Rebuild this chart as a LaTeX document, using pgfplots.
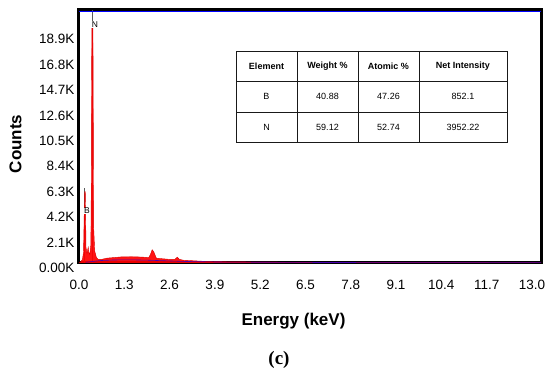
\documentclass[border=0pt]{standalone}
\usepackage{fontspec}
\setmainfont{Liberation Sans}
\newfontfamily\seriffont{Liberation Serif}
\usepackage{pgfplots}
\pgfplotsset{compat=1.18}
\begin{document}
\begin{tikzpicture}[x=1pt,y=1pt]
\useasboundingbox (0,0) rectangle (550,375);
\begin{axis}[
  at={(79pt,112pt)}, anchor=south west,
  scale only axis, width=462pt, height=253pt,
  xmin=0, xmax=13.26, ymin=0, ymax=20900,
  scaled y ticks=false, scaled x ticks=false,
  axis line style={line width=3pt},
  major tick length=0pt,
  xtick={0,1.3,2.6,3.9,5.2,6.5,7.8,9.1,10.4,11.7,13.0},
  xticklabels={0.0,1.3,2.6,3.9,5.2,6.5,7.8,9.1,10.4,11.7,13.0},
  ytick={0,2100,4200,6300,8400,10500,12600,14700,16800,18900},
  yticklabels={0.00K,2.1K,4.2K,6.3K,8.4K,10.5K,12.6K,14.7K,16.8K,18.9K},
  ticklabel style={font=\fontsize{13.5}{16}\selectfont},
  xticklabel style={yshift=-14pt},
  yticklabel style={yshift=-5pt, xshift=-1pt},
]
\addplot[black!65, line width=0.5pt] coordinates {(0.385,0) (0.385,20900)};
\addplot[black!65, line width=0.5pt] coordinates {(0.155,0) (0.155,6200)};
\addplot[fill=red, draw=red!85!black, line width=0.4pt, fill opacity=0.92] coordinates {
(0.00,0) (0.05,100) (0.10,300) (0.13,900) (0.15,4000) (0.165,5900) (0.18,5900) (0.19,4200)
(0.20,1300) (0.23,800) (0.25,1100) (0.265,1300) (0.28,900) (0.31,700)
(0.34,1500) (0.35,5000) (0.36,15000) (0.37,19600) (0.40,19600) (0.41,12000)
(0.42,3000) (0.45,1000) (0.50,450) (0.55,300) (0.65,300) (0.8,400)
(1.0,450) (1.2,500) (1.5,520) (1.8,490) (2.0,450) (2.05,700) (2.10,1100)
(2.15,900) (2.22,400) (2.4,350) (2.6,300) (2.75,300) (2.82,480) (2.88,300)
(3.0,230) (3.5,150) (4.0,110) (5.0,80) (6.0,60) (8,40) (10,30) (13.26,20)
} \closedcycle;
\addplot[blue!70!red, line width=0.6pt] coordinates {
(0.2,60) (0.6,200) (1.0,250) (1.5,260) (2.0,230) (3.0,130) (4.0,80) (6.0,50) (9.0,30) (13.26,20)
};
\addplot[blue, line width=0.8pt] coordinates {(0,20750) (13.26,20750)};
\node[font=\fontsize{8.5}{10}\selectfont, fill=white, inner sep=0.5pt] at (axis cs:0.23,4300) {B};
\node[font=\fontsize{8.5}{10}\selectfont, fill=white, inner sep=0.5pt] at (axis cs:0.46,19700) {N};
\end{axis}
% table
\begin{scope}[line width=0.9pt, black!90]
\draw (236,324) rectangle (507,233);
\draw (236,294) -- (507,294);
\draw (236,263) -- (507,263);
\draw (297,324) -- (297,233);
\draw (358,324) -- (358,233);
\draw (419,324) -- (419,233);
\end{scope}
\begin{scope}[font=\fontsize{9}{11}\selectfont]
\node[font=\fontsize{9}{11}\selectfont\bfseries] at (266.5,309) {Element};
\node[font=\fontsize{9}{11}\selectfont\bfseries] at (327.5,309) {Weight \%};
\node[font=\fontsize{9}{11}\selectfont\bfseries] at (388.5,309) {Atomic \%};
\node[font=\fontsize{9}{11}\selectfont\bfseries] at (463,309) {Net Intensity};
\node at (266.5,278.5) {B};
\node at (327.5,278.5) {40.88};
\node at (388.5,278.5) {47.26};
\node at (463,278.5) {852.1};
\node at (266.5,248) {N};
\node at (327.5,248) {59.12};
\node at (388.5,248) {52.74};
\node at (463,248) {3952.22};
\end{scope}
\node[rotate=90, font=\fontsize{17}{20}\selectfont\bfseries] at (15.5,231) {Counts};
\node[font=\fontsize{17}{20}\selectfont\bfseries] at (293.5,53.5) {Energy (keV)};
\node at (279,15) {\fontsize{19}{22}\selectfont\seriffont\bfseries (c)};
\end{tikzpicture}
\end{document}
